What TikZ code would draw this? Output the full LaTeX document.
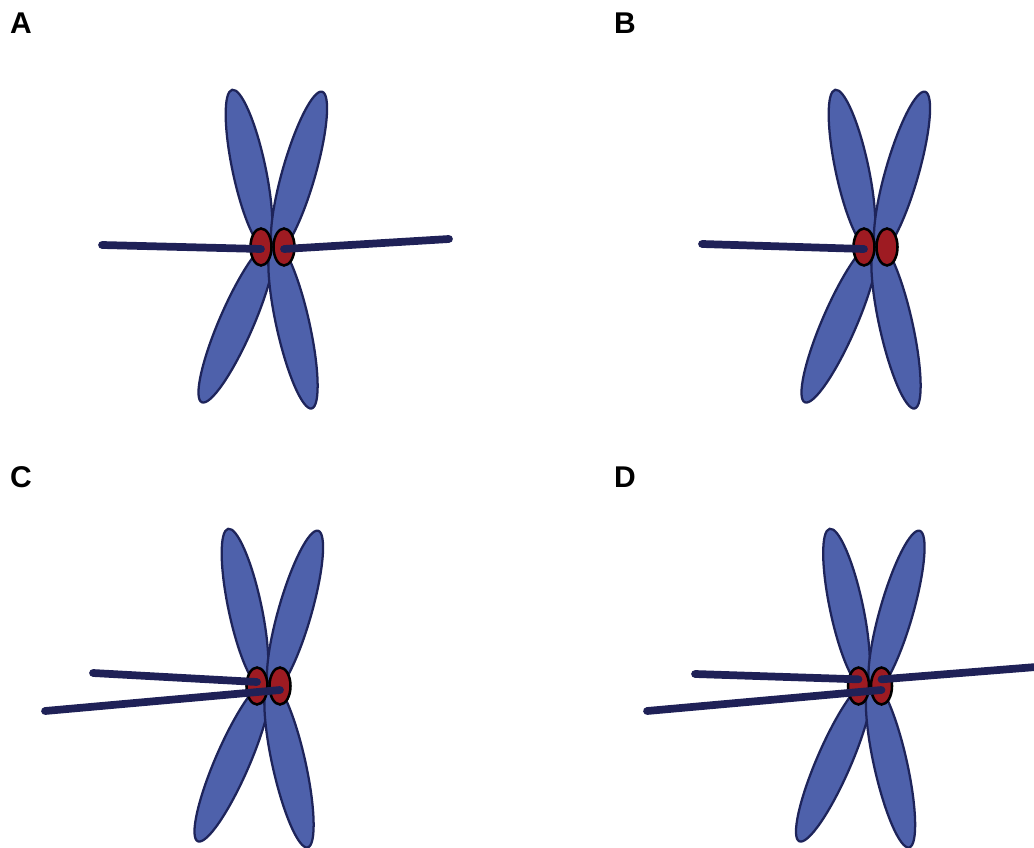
\documentclass[tikz,border=0pt]{standalone}
\usepackage{fontspec}
\setmainfont{Liberation Sans}
\definecolor{armfill}{HTML}{4E61AB}
\definecolor{armline}{HTML}{1E245A}
\definecolor{mtcol}{HTML}{1F2157}
\definecolor{kinfill}{HTML}{9E1B22}

\begin{document}
\begin{tikzpicture}[x=0.75pt,y=-0.75pt,
  arm/.style={fill=armfill,draw=armline,line width=1.7pt},
  kin/.style={fill=kinfill,draw=black,line width=1.9pt},
  mt/.style={draw=mtcol,line width=5.8pt,line cap=round},
  panel/.style={font=\fontsize{22.5}{27}\selectfont\bfseries,anchor=center,inner sep=0pt},
  chromosome/.pic={
    % four chromatid arms
    \draw[arm] (-23.5,-78) ellipse [x radius=16.5, y radius=81, rotate=12];
    \draw[arm] (26.5,-74.5) ellipse [x radius=16.5, y radius=84, rotate=-16];
    \draw[arm] (-36,75.5) ellipse [x radius=17, y radius=87, rotate=-23.5];
    \draw[arm] (20.5,78) ellipse [x radius=16.5, y radius=85.5, rotate=12.6];
    % sister kinetochores
    \coordinate (-kl) at (-11.5,0);
    \coordinate (-kr) at (11.5,0);
    \draw[kin] (-kl) ellipse [x radius=10.5, y radius=18.5];
    \draw[kin] (-kr) ellipse [x radius=10.5, y radius=18.5];
  }]
\useasboundingbox (0,0) rectangle (1034,848);

% panel letters
\node[panel] (la) at (21,23) {A};
\node[panel] (lb) at (625,23) {B};
\node[panel] (lc) at (21,477) {C};
\node[panel] (ld) at (625,477) {D};

% chromosomes
\pic (A) at (272.5,247) {chromosome};
\pic (B) at (875.5,247) {chromosome};
\pic (C) at (268.5,686) {chromosome};
\pic (D) at (870,686) {chromosome};

% free ends of the microtubules
\coordinate (a1) at (102,245);
\coordinate (a2) at (449,239);
\coordinate (b1) at (702,244);
\coordinate (c1) at (93,673);
\coordinate (c2) at (45,711);
\coordinate (d1) at (695,674);
\coordinate (d2) at (647,711);
\coordinate (d3) at (1036,667);

% microtubules
\draw[mt] (a1) -- ([yshift=-1.5]A-kl);
\draw[mt] ([yshift=-1.5]A-kr) -- (a2);
\draw[mt] (b1) -- ([yshift=-1.5]B-kl);
\draw[mt] (c1) -- ([yshift=3]C-kl);
\draw[mt] (c2) -- ([yshift=-3]C-kr);
\draw[mt] (d1) -- ([yshift=5]D-kl);
\draw[mt] (d2) -- ([yshift=-3]D-kr);
\draw[mt] ([yshift=5]D-kr) -- (d3);
\end{tikzpicture}
\end{document}
